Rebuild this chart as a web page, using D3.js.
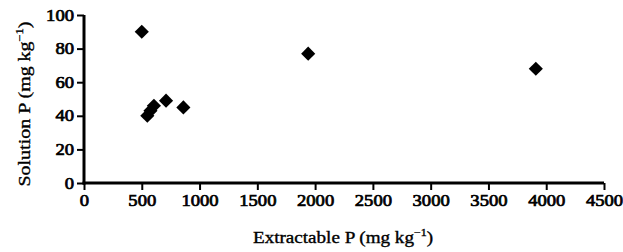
<!DOCTYPE html>
<html lang="en">
<head>
<meta charset="UTF-8">
<title>Solution P vs Extractable P</title>
<style>
  body { margin: 0; background: #fff; }
  svg { display: block; }
</style>
</head>
<body>
<svg id="chart" width="623" height="252"></svg>
<script src="https://d3js.org/d3.v7.min.js"></script>
<script>
// values
const extractableP = [500, 548, 575, 605, 710, 860, 1940, 3910];
const solutionP = [90, 40, 43, 46, 49, 45, 77, 68];
const xTicks = [0, 500, 1000, 1500, 2000, 2500, 3000, 3500, 4000, 4500];
const yTicks = [0, 20, 40, 60, 80, 100];

const serif = '"Liberation Serif", "Times New Roman", serif';
const svg = d3.select('#chart');
const x = d3.scaleLinear().domain([0, 4500]).range([84, 604]);
const y = d3.scaleLinear().domain([0, 100]).range([183, 15]);

const yAxis = svg.append('g')
    .attr('transform', 'translate(84,0)')
    .call(d3.axisLeft(y).tickValues(yTicks).tickFormat(d3.format('d')).tickSize(7).tickPadding(3));
const xAxis = svg.append('g')
    .attr('transform', 'translate(0,183)')
    .call(d3.axisBottom(x).tickValues(xTicks).tickFormat(d3.format('d')).tickSize(7).tickPadding(5));

[xAxis, yAxis].forEach(a => {
    a.attr('font-family', serif).attr('font-size', 16);
    a.select('.domain').attr('stroke', '#000').attr('stroke-width', 3);
    a.selectAll('.tick line').attr('stroke', '#000').attr('stroke-width', 2);
    // heavier, slightly wider digits like the reference
    a.selectAll('.tick text')
        .attr('fill', '#000')
        .attr('stroke', '#000').attr('stroke-width', 0.7)
        .attr('textLength', d => String(d).length * 9.3)
        .attr('lengthAdjust', 'spacingAndGlyphs');
});
// drop the end caps d3 puts on the domain
yAxis.select('.domain').attr('d', 'M0,' + y(100) + 'V' + (y(0) + 1.5));
xAxis.select('.domain').attr('d', 'M' + (x(0) - 1.5) + ',0H' + x(4500));

// points
svg.append('g')
    .selectAll('path')
    .data(extractableP)
    .enter()
    .append('path')
    .attr('d', d3.symbol().type(d3.symbolSquare).size(100))
    .attr('transform', (d, i) => `translate(${x(d)},${y(solutionP[i])}) rotate(45)`)
    .attr('fill', '#000');

// axis titles
function title(t, label, len) {
    t.attr('font-family', serif).attr('font-size', 16)
        .attr('text-anchor', 'middle').attr('fill', '#000')
        .attr('stroke', '#000').attr('stroke-width', 0.35)
        .attr('textLength', len).attr('lengthAdjust', 'spacingAndGlyphs');
    t.append('tspan').text(label + ' (mg kg');
    t.append('tspan').attr('dy', -7).attr('font-size', 10).text('\u22121');
    t.append('tspan').attr('dy', 7).text(')');
}
title(svg.append('text').attr('x', 343).attr('y', 243), 'Extractable P', 180);
title(svg.append('text').attr('transform', 'translate(30,104) rotate(-90)'), 'Solution P', 165);
</script>
</body>
</html>
